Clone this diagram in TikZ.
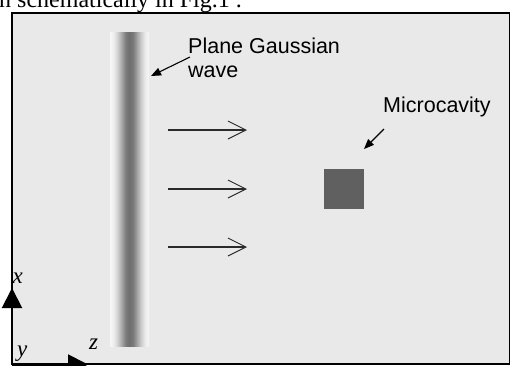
\documentclass[tikz,border=0pt]{standalone}
\usepackage{fontspec}
\setmainfont{Liberation Serif}
\setsansfont{Liberation Sans}
\usetikzlibrary{arrows.meta}
\pgfdeclarehorizontalshading{gbeam}{100bp}{color(0bp)=(white); color(25bp)=(white!97!black); color(30bp)=(white!92!black); color(35bp)=(white!81!black); color(40bp)=(white!65!black); color(45bp)=(white!49!black); color(50bp)=(white!43!black); color(55bp)=(white!49!black); color(60bp)=(white!65!black); color(65bp)=(white!81!black); color(70bp)=(white!92!black); color(75bp)=(white!97!black); color(100bp)=(white)}
\definecolor{bgfill}{HTML}{E9E9E9}
\definecolor{cavfill}{HTML}{606060}
\definecolor{wavearrow}{HTML}{2A2A2A}
\begin{document}
\begin{tikzpicture}[x=1pt,y=-1pt,
  lbl/.style={font=\sffamily\fontsize{21.5}{24}\selectfont, inner sep=0pt, align=left},
  axlbl/.style={font=\rmfamily\itshape\fontsize{23}{23}\selectfont, inner sep=0pt},
  frame/.style={fill=bgfill, draw=black, line width=1.6pt},
  cavity/.style={fill=cavfill, draw=none, minimum size=40pt, inner sep=0pt},
  ptr/.style={-{Triangle[length=10pt,width=8pt]}, line width=1.1pt},
  wavearr/.style={-{Straight Barb[length=18pt,width=18pt,line width=1pt]}, draw=wavearrow, line width=1.1pt},
  axis/.style={-{Triangle[length=20pt,width=20pt]}, line width=2pt}]
\useasboundingbox (0,0) rectangle (511,365);
% cropped caption text above the figure
\node[font=\rmfamily\fontsize{24}{24}\selectfont, anchor=base west, inner sep=0pt] (cap) at (-1,7) {n schematically in Fig.1 .};
% frame
\draw[frame] (12,13) rectangle (509.5,364);
% gaussian beam
\shade[shading=gbeam] (110,32) rectangle (149,346);
\node[inner sep=0pt, minimum width=39pt, minimum height=314pt] (beam) at (129.5,189) {};
% labels
\node[lbl, anchor=north west] (pg) at (188,37.5) {Plane Gaussian\\wave};
\node[lbl, anchor=base west] (mc) at (383,112) {Microcavity};
% cavity
\node[cavity] (cav) at (344,189) {};
% pointer arrows
\coordinate (pgs) at (190,57);
\coordinate (pge) at (151,76);
\draw[ptr] (pgs) -- (pge);
\coordinate (mcs) at (384,129);
\coordinate (mce) at (364,149);
\draw[ptr] (mcs) -- (mce);
% propagation arrows
\coordinate (a1s) at (168,130); \coordinate (a1e) at (247,130);
\coordinate (a2s) at (168,189); \coordinate (a2e) at (247,189);
\coordinate (a3s) at (168,247); \coordinate (a3e) at (247,247);
\draw[wavearr] (a1s) -- (a1e);
\draw[wavearr] (a2s) -- (a2e);
\draw[wavearr] (a3s) -- (a3e);
% axes
\coordinate (o) at (12,364.5);
\coordinate (xt) at (12,288);
\coordinate (zt) at (88,364.5);
\draw[axis] (o) -- (xt);
\draw[axis] (o) -- (zt);
\node[axlbl, anchor=base west] (xl) at (12.5,283) {x};
\node[axlbl, anchor=base west] (yl) at (17,356) {y};
\node[axlbl, anchor=base west] (zl) at (89,349) {z};
\end{tikzpicture}
\end{document}
